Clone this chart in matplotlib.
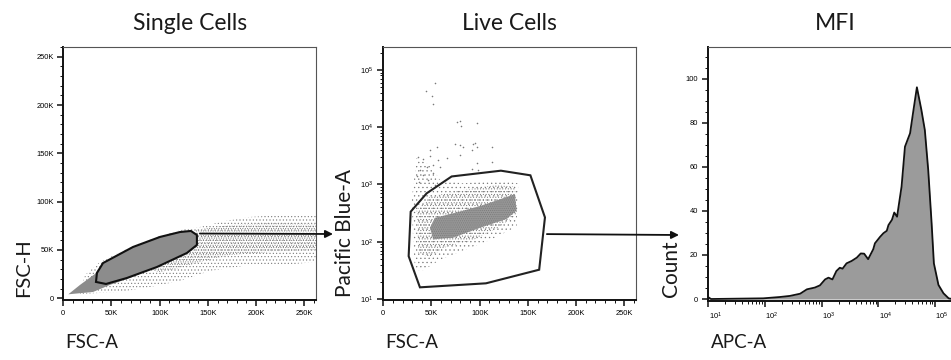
import numpy as np
import matplotlib
matplotlib.use('Agg')
import matplotlib.pyplot as plt
from matplotlib.patches import Polygon
from matplotlib.ticker import MultipleLocator, FuncFormatter, LogLocator, NullFormatter, FixedLocator
from matplotlib.transforms import ScaledTranslation

W, H, DPI = 951, 360, 100
plt.rcParams['hatch.linewidth'] = 0.4
plt.rcParams['hatch.color'] = '#787878'

# ---------------- data ----------------
# Panel 1: Single Cells (FSC-A vs FSC-H)
single_gate_x = [33.9e3, 34.9e3, 41.2e3, 72.3e3, 100.3e3, 121.0e3, 132.4e3, 138.6e3, 138.6e3, 128.3e3, 97.2e3, 66.0e3, 44.3e3]
single_gate_y = [16.9e3, 26.2e3, 36.5e3, 53.1e3, 63.5e3, 68.6e3, 69.7e3, 65.5e3, 55.2e3, 46.9e3, 32.4e3, 21.0e3, 14.8e3]
single_core_x = [5.2e3, 17.3e3, 32.9e3, 41.2e3, 72.3e3, 100.3e3, 121.0e3, 132.4e3, 138.6e3, 138.6e3, 128.3e3, 97.2e3, 66.0e3, 48.4e3, 30.8e3]
single_core_y = [4.1e3, 13.8e3, 25.2e3, 36.5e3, 53.1e3, 63.5e3, 68.6e3, 69.7e3, 65.5e3, 55.2e3, 46.9e3, 32.4e3, 20.0e3, 13.8e3, 6.5e3]
single_sparse_x = [17.3e3, 58.8e3, 89.9e3, 121.0e3, 152.1e3, 193.6e3, 229.9e3, 262e3, 262e3, 224.7e3, 193.6e3, 167.7e3, 141.8e3, 126.2e3, 100.3e3, 72.3e3, 38.1e3, 22.5e3]
single_sparse_y = [4.5e3, 6.5e3, 11.7e3, 17.9e3, 28.3e3, 34.5e3, 34.5e3, 37.6e3, 85.2e3, 86.2e3, 84.2e3, 80.0e3, 73.8e3, 71.7e3, 64.5e3, 54.1e3, 37.6e3, 24.1e3]
single_band_x = [136.6e3, 172.8e3, 214.3e3, 262e3, 262e3, 214.3e3, 172.8e3, 141.8e3, 121.0e3, 100.3e3, 89.9e3, 126.2e3, 138.6e3]
single_band_y = [70.7e3, 75.9e3, 77.9e3, 76.9e3, 50.0e3, 47.9e3, 44.8e3, 37.6e3, 31.4e3, 27.2e3, 29.3e3, 44.8e3, 60.4e3]

# Panel 2: Live Cells (FSC-A vs Pacific Blue-A)
live_gate_x = [38.0e3, 26.3e3, 28.4e3, 45.0e3, 70.9e3, 122.0e3, 152.6e3, 167.7e3, 161.7e3, 106.5e3]
live_gate_y = [16.0, 56, 335, 701, 1380, 1740, 1445, 266, 32.5, 18.8]
live_core_x = [48.4e3, 53.6e3, 76.1e3, 100.3e3, 121.0e3, 136.5e3, 138.3e3, 127.9e3, 100.3e3, 72.6e3, 51.8e3]
live_core_y = [175, 262, 325, 420, 550, 680, 350, 250, 175, 118, 110]
live_mid_x = [34.6e3, 48.4e3, 82.9e3, 117.6e3, 136.5e3, 138.9e3, 121.0e3, 93.3e3, 65.7e3, 48.4e3, 36.3e3]
live_mid_y = [359, 612, 802, 980, 913, 314, 183, 107, 82, 55, 63]
live_sparse_x = [32.9e3, 41.5e3, 58.8e3, 79.5e3, 110.6e3, 138.3e3, 140.0e3, 117.6e3, 82.9e3, 58.8e3, 48.4e3, 34.6e3, 29.4e3, 31.1e3]
live_sparse_y = [32, 32, 48, 67, 107, 183, 1045, 1200, 1045, 1200, 2190, 2900, 537, 94]
live_out_x = [53.6e3, 44.3e3, 50.2e3, 51.8e3, 76.7e3, 79.5e3, 80.2e3, 96.8e3, 74.3e3, 79.5e3, 82.9e3, 93.3e3, 91.6e3,
              96.8e3, 55.4e3, 48.4e3, 65.7e3, 79.5e3, 113.0e3, 36.3e3, 41.5e3, 48.4e3, 57.0e3, 51.8e3, 38.0e3, 45.0e3,
              58.8e3, 34.6e3, 41.5e3, 51.8e3, 91.6e3, 98.5e3, 37.3e3, 46.7e3, 53.6e3, 96.8e3, 112.4e3, 95.1e3]
live_out_y = [60000, 43600, 35200, 25100, 12300, 12600, 10500, 12000, 5130, 4900, 4470, 5130, 4000,
              4470, 4470, 4000, 2880, 3300, 2510, 2990, 2750, 3090, 2690, 2190, 1780, 2040,
              2040, 1380, 1480, 1580, 1900, 1780, 1120, 1200, 980, 2340, 4570, 5250]

# Panel 3: MFI histogram (APC-A vs Count)
apc_values = [9.8, 10.0, 11.2, 93, 182, 275, 417, 550, 759, 933, 1150, 1320, 1550, 1820, 2090, 2340, 2750, 3390,
              4170, 4900, 5620, 6610, 8130, 8710, 10700, 12300, 14100, 15100, 17400, 19100, 21400, 25700, 29500,
              36300, 41700, 47900, 57500, 66100, 75900, 87100, 95500, 115000, 141000, 174000, 200000]
counts = [0, 0.8, 0, 0.3, 0.9, 1.4, 2.4, 4.4, 5.2, 6.2, 8.9, 9.7, 8.9, 12.7, 14.2, 13.8, 16.2, 17.3,
          18.8, 20.7, 20.6, 18.1, 22.6, 25.3, 28.2, 29.9, 31.0, 33.6, 36.0, 39.3, 37.4, 51.1, 69.2,
          75.3, 85.9, 96.2, 85.9, 76.8, 58.6, 34.4, 16.2, 6.4, 2.6, 0.3, 0]

titles = ['Single Cells', 'Live Cells', 'MFI']
k_ticks = [0, 50e3, 100e3, 150e3, 200e3, 250e3]

# ---------------- figure ----------------
fig = plt.figure(figsize=(W / DPI, H / DPI), dpi=DPI)
TXT = dict(family=['Lato', 'DejaVu Sans'], color='#1a1a1a')
TICK_FAMILY = ['Liberation Sans', 'DejaVu Sans']
plt.rcParams['mathtext.fontset'] = 'custom'
plt.rcParams['mathtext.rm'] = 'Liberation Sans'
plt.rcParams['mathtext.it'] = 'Liberation Sans'


def px_rect(l, r, t, b):
    return [l / W, 1 - b / H, (r - l) / W, (b - t) / H]


def style_axes(ax):
    for s in ['left', 'bottom']:
        ax.spines[s].set_linewidth(1.4)
        ax.spines[s].set_color('#111111')
    for s in ['top', 'right']:
        ax.spines[s].set_linewidth(0.8)
        ax.spines[s].set_color('#555555')
    ax.tick_params(which='major', length=4.5, width=1.1, color='#111111', pad=2.5)
    ax.tick_params(which='minor', length=2.2, width=0.7, color='#111111')
    for lab in ax.get_xticklabels() + ax.get_yticklabels():
        lab.set_fontfamily(TICK_FAMILY)
        lab.set_fontsize(5.4)
        lab.set_color('#000000')


kfmt = FuncFormatter(lambda v, p: '0' if v == 0 else f'{int(round(v / 1000))}K')


def dots(ax, xs, ys, hatch, color):
    p = Polygon(np.column_stack([xs, ys]), closed=True, facecolor='none',
                edgecolor=color, linewidth=0, hatch=hatch)
    ax.add_patch(p)


# Panel 1
ax1 = fig.add_axes(px_rect(63.3, 316, 46.7, 300))
ax1.set_xlim(0, 262144)
ax1.set_ylim(-1800, 260500)
dots(ax1, single_sparse_x, single_sparse_y, '.....', '#787878')
dots(ax1, single_band_x, single_band_y, '.......', '#787878')
ax1.add_patch(Polygon(np.column_stack([single_core_x, single_core_y]), closed=True,
                      facecolor='#8c8c8c', edgecolor='none', linewidth=0))
ax1.add_patch(Polygon(np.column_stack([single_gate_x, single_gate_y]), closed=True,
                      facecolor='none', edgecolor='#111111', linewidth=1.5))
ax1.xaxis.set_major_locator(FixedLocator(k_ticks))
ax1.yaxis.set_major_locator(FixedLocator(k_ticks))
ax1.xaxis.set_minor_locator(MultipleLocator(10e3))
ax1.yaxis.set_minor_locator(MultipleLocator(10e3))
ax1.xaxis.set_major_formatter(kfmt)
ax1.yaxis.set_major_formatter(kfmt)
style_axes(ax1)

# Panel 2
ax2 = fig.add_axes(px_rect(383.3, 636, 47, 300))
ax2.set_yscale('log')
ax2.set_xlim(0, 262144)
ax2.set_ylim(10 ** 0.983, 10 ** 5.40)
dots(ax2, live_sparse_x, live_sparse_y, '....', '#787878')
dots(ax2, live_mid_x, live_mid_y, '......', '#787878')
ax2.add_patch(Polygon(np.column_stack([live_core_x, live_core_y]), closed=True,
                      facecolor='#969696', edgecolor='none', linewidth=0))
dots(ax2, live_core_x, live_core_y, '........', '#787878')
ax2.scatter(live_out_x, live_out_y, s=1.3, color='#7a7a7a', linewidths=0)
ax2.add_patch(Polygon(np.column_stack([live_gate_x, live_gate_y]), closed=True,
                      facecolor='none', edgecolor='#222222', linewidth=1.5))
ax2.xaxis.set_major_locator(FixedLocator(k_ticks))
ax2.xaxis.set_minor_locator(MultipleLocator(10e3))
ax2.xaxis.set_major_formatter(kfmt)
ax2.yaxis.set_major_locator(FixedLocator([1e1, 1e2, 1e3, 1e4, 1e5]))
ax2.yaxis.set_minor_locator(LogLocator(base=10, subs=np.arange(2, 10)))
ax2.yaxis.set_minor_formatter(NullFormatter())
ax2.yaxis.set_major_formatter(FuncFormatter(lambda v, p: r'$10^{%d}$' % round(np.log10(v))))
style_axes(ax2)

# Panel 3
ax3 = fig.add_axes(px_rect(707.7, 962, 47, 300.7))
ax3.set_xscale('log')
ax3.set_xlim(10 ** 0.99, 10 ** 5.476)
ax3.set_ylim(-0.77, 114.5)
ax3.fill_between(apc_values, counts, 0, color='#9b9b9b', linewidth=0)
ax3.plot(apc_values, counts, color='#111111', linewidth=1.3)
ax3.xaxis.set_major_locator(FixedLocator([1e1, 1e2, 1e3, 1e4, 1e5]))
ax3.xaxis.set_minor_locator(LogLocator(base=10, subs=np.arange(2, 10)))
ax3.xaxis.set_minor_formatter(NullFormatter())
ax3.xaxis.set_major_formatter(FuncFormatter(lambda v, p: r'$10^{%d}$' % round(np.log10(v))))
ax3.yaxis.set_major_locator(FixedLocator([0, 20, 40, 60, 80, 100]))
ax3.yaxis.set_minor_locator(FixedLocator(list(range(5, 115, 5))))
style_axes(ax3)
ax3.spines['right'].set_visible(False)
for lab in ax3.get_xticklabels():
    lab.set_transform(lab.get_transform() + ScaledTranslation(5 / 72, 0, fig.dpi_scale_trans))

# Titles
for ax, t in zip([ax1, ax2, ax3], titles):
    fig.text(0.5 * (ax.get_position().x0 + min(ax.get_position().x1, 1.0115)), 1 - 24 / H, t,
             ha='center', va='center', size=16.5, **TXT)

# Axis labels
fig.text(24 / W, 1 - 297 / H, 'FSC-H', rotation=90, ha='center', va='bottom', size=14.5, **TXT)
fig.text(345 / W, 1 - 297 / H, 'Pacific Blue-A', rotation=90, ha='center', va='bottom', size=15, **TXT)
fig.text(671.5 / W, 1 - 297 / H, 'Count', rotation=90, ha='center', va='bottom', size=15, **TXT)
fig.text(65 / W, 1 - 342 / H, 'FSC-A', ha='left', va='center', size=13.5, **TXT)
fig.text(385 / W, 1 - 342 / H, 'FSC-A', ha='left', va='center', size=13.5, **TXT)
fig.text(711 / W, 1 - 342 / H, 'APC-A', ha='left', va='center', size=13.5, **TXT)

# Arrows linking the gates
arrow_kw = dict(arrowstyle='-|>', color='#111111', lw=1.3, mutation_scale=11, shrinkA=0, shrinkB=0)
ax1.annotate('', xy=(333 / W, 1 - 234 / H), xycoords='figure fraction',
             xytext=(141.7e3, 67e3), textcoords='data', arrowprops=arrow_kw, annotation_clip=False)
ax2.annotate('', xy=(679 / W, 1 - 235 / H), xycoords='figure fraction',
             xytext=(169.7e3, 136), textcoords='data', arrowprops=arrow_kw, annotation_clip=False)

fig.savefig('out.png', dpi=DPI)
